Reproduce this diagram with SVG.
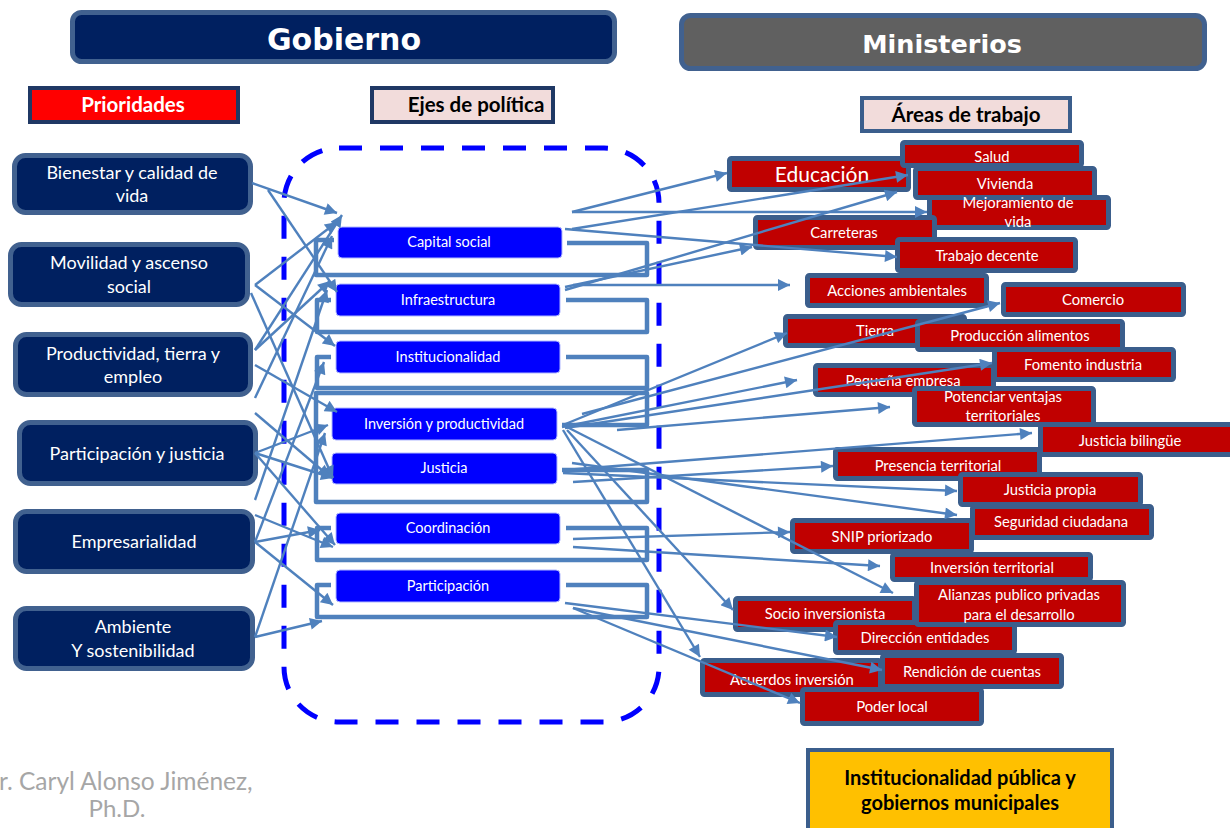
<svg xmlns="http://www.w3.org/2000/svg" width="1230" height="828" viewBox="0 0 1230 828">
<style>
  text { font-family: Lato, "Open Sans", "Liberation Sans", sans-serif; text-anchor: middle; }
  .hdr { fill: #002060; stroke: #41618f; stroke-width: 5; }
  .hdr2 { fill: #606060; stroke: #41618f; stroke-width: 5; }
  .htxt { font-family: "DejaVu Sans", "Liberation Sans", sans-serif; font-weight: bold; fill: #ffffff; }
  .lbl { stroke: #1f3864; stroke-width: 4; }
  .lbltxt { font-weight: bold; font-size: 20.5px; fill: #000000; }
  .pn { fill: #002060; stroke: #41618f; stroke-width: 5; }
  .pntxt { font-size: 18px; fill: #ffffff; }
  .eje { fill: #0000ff; stroke: #b0b8ff; stroke-width: 1; }
  .ejetxt { font-size: 14.5px; fill: #ffffff; }
  .area { fill: #c00000; stroke: #3b5e8c; stroke-width: 5; }
  .atxt { font-size: 14.8px; fill: #ffffff; }
  .brk { fill: none; stroke: #4f81bd; stroke-width: 4.5; stroke-linejoin: round; }
  .cn line { stroke: #4f81bd; stroke-width: 2.4; marker-end: url(#ah); }
</style>
<defs>
  <marker id="ah" viewBox="0 0 10 10" refX="10" refY="5" markerWidth="15" markerHeight="12" markerUnits="userSpaceOnUse" orient="auto">
    <path d="M0,0 L10,5 L0,10 z" fill="#4f81bd"/>
  </marker>
</defs>
<rect width="1230" height="828" fill="#ffffff"/>

<!-- headers -->
<g id="gobierno">
  <rect class="hdr" x="72.5" y="12.5" width="542" height="49" rx="9"/>
  <text class="htxt" x="344" y="50" font-size="30">Gobierno</text>
</g>
<g id="ministerios">
  <rect class="hdr2" x="681.5" y="15.5" width="523" height="53" rx="9"/>
  <text class="htxt" x="942" y="53" font-size="25.5">Ministerios</text>
</g>
<g id="prioridades">
  <rect class="lbl" x="30" y="88" width="208" height="34" fill="#ff0000"/>
  <text class="lbltxt" x="133" y="112" style="fill:#ffffff">Prioridades</text>
</g>
<g id="ejes">
  <rect class="lbl" x="372" y="88" width="181" height="34" fill="#f2dcdb"/>
  <text class="lbltxt" x="476" y="112">Ejes de política</text>
</g>
<g id="areas">
  <rect class="lbl" x="862" y="98" width="208" height="33" fill="#f2dcdb" style="stroke:#3b5e8c"/>
  <text class="lbltxt" x="966" y="122">Áreas de trabajo</text>
</g>

<!-- dashed container -->
<rect x="284" y="148" width="375" height="574" rx="55" fill="none" stroke="#0000ff" stroke-width="5" stroke-dasharray="23 18"/>

<!-- brackets -->
<g id="brackets">
  <path class="brk" d="M567,243 H647 V275 H316 V240 H334"/>
  <path class="brk" d="M566,300 H647 V332 H317 V300 H331"/>
  <path class="brk" d="M566,357 H647 V388 H317 V357 H331"/>
  <path class="brk" d="M562,425 H647 V393 H316 V502 H647 V470 H562"/>
  <path class="brk" d="M566,528 H647 V560 H317 V528 H331"/>
  <path class="brk" d="M566,585 H647 V617 H317 V585 H331"/>
</g>

<!-- left nodes -->
<g id="p-bienestar"><rect class="pn" x="14.5" y="155.5" width="236" height="57" rx="11"/><text class="pntxt" x="132" y="179">Bienestar y calidad de</text><text class="pntxt" x="132" y="202">vida</text></g>
<g id="p-movilidad"><rect class="pn" x="10.5" y="244.5" width="237" height="60" rx="11"/><text class="pntxt" x="129" y="269">Movilidad y ascenso</text><text class="pntxt" x="129" y="293">social</text></g>
<g id="p-productividad"><rect class="pn" x="15.5" y="334.5" width="235" height="60" rx="11"/><text class="pntxt" x="133" y="360">Productividad, tierra y</text><text class="pntxt" x="133" y="383">empleo</text></g>
<g id="p-participacion"><rect class="pn" x="19.5" y="422.5" width="236" height="61" rx="11"/><text class="pntxt" x="137" y="460">Participación y justicia</text></g>
<g id="p-empresarialidad"><rect class="pn" x="15.5" y="511.5" width="237" height="60" rx="11"/><text class="pntxt" x="134" y="548">Empresarialidad</text></g>
<g id="p-ambiente"><rect class="pn" x="15.5" y="608.5" width="237" height="60" rx="11"/><text class="pntxt" x="133" y="633">Ambiente</text><text class="pntxt" x="133" y="657">Y sostenibilidad</text></g>

<!-- ejes -->
<g id="e-capital"><rect class="eje" x="338" y="227" width="224" height="31" rx="4"/><text class="ejetxt" x="449" y="247">Capital social</text></g>
<g id="e-infra"><rect class="eje" x="336" y="284" width="224" height="32" rx="4"/><text class="ejetxt" x="448" y="305">Infraestructura</text></g>
<g id="e-instit"><rect class="eje" x="336" y="341" width="224" height="32" rx="4"/><text class="ejetxt" x="448" y="362">Institucionalidad</text></g>
<g id="e-inversion"><rect class="eje" x="332" y="408" width="225" height="32" rx="4"/><text class="ejetxt" x="444" y="429">Inversión y productividad</text></g>
<g id="e-justicia"><rect class="eje" x="332" y="453" width="225" height="31" rx="4"/><text class="ejetxt" x="444" y="473">Justicia</text></g>
<g id="e-coord"><rect class="eje" x="336" y="513" width="224" height="31" rx="4"/><text class="ejetxt" x="448" y="533">Coordinación</text></g>
<g id="e-partic"><rect class="eje" x="336" y="570" width="224" height="32" rx="4"/><text class="ejetxt" x="448" y="591">Participación</text></g>

<!-- areas de trabajo -->
<g id="a-educacion"><rect class="area" x="729.5" y="158.5" width="179" height="31" rx="2"/><text class="atxt" x="822" y="182" style="font-size:21px">Educación</text></g>
<g id="a-salud"><rect class="area" x="902.5" y="142.5" width="179" height="23" rx="2"/><text class="atxt" x="992" y="162">Salud</text></g>
<g id="a-vivienda"><rect class="area" x="915.5" y="168.5" width="179" height="29" rx="2"/><text class="atxt" x="1005" y="189">Vivienda</text></g>
<g id="a-mejoramiento"><rect class="area" x="929.5" y="197.5" width="179" height="30" rx="2"/><text class="atxt" x="1018" y="208">Mejoramiento de</text><text class="atxt" x="1018" y="227">vida</text></g>
<g id="a-carreteras"><rect class="area" x="755.5" y="217.5" width="179" height="30" rx="2"/><text class="atxt" x="844" y="238">Carreteras</text></g>
<g id="a-trabajo"><rect class="area" x="897.5" y="239.5" width="178" height="31" rx="2"/><text class="atxt" x="987" y="261">Trabajo decente</text></g>
<g id="a-acciones"><rect class="area" x="807.5" y="275.5" width="179" height="30" rx="2"/><text class="atxt" x="897" y="296">Acciones ambientales</text></g>
<g id="a-comercio"><rect class="area" x="1003.5" y="284.5" width="180" height="30" rx="2"/><text class="atxt" x="1093" y="305">Comercio</text></g>
<g id="a-tierra"><rect class="area" x="785.5" y="316.5" width="179" height="29" rx="2"/><text class="atxt" x="875" y="336">Tierra</text></g>
<g id="a-produccion"><rect class="area" x="917.5" y="321.5" width="205" height="28" rx="2"/><text class="atxt" x="1020" y="341">Producción alimentos</text></g>
<g id="a-pequena"><rect class="area" x="815.5" y="365.5" width="178" height="29" rx="2"/><text class="atxt" x="903" y="386">Pequeña empresa</text></g>
<g id="a-fomento"><rect class="area" x="994.5" y="349.5" width="179" height="30" rx="2"/><text class="atxt" x="1083" y="370">Fomento industria</text></g>
<g id="a-bilingue"><rect class="area" x="1040.5" y="424.5" width="192" height="30" rx="2"/><text class="atxt" x="1130" y="446">Justicia bilingüe</text></g>
<g id="a-potenciar"><rect class="area" x="914.5" y="388.5" width="179" height="36" rx="2"/><text class="atxt" x="1003" y="402">Potenciar ventajas</text><text class="atxt" x="1003" y="421">territoriales</text></g>
<g id="a-presencia"><rect class="area" x="835.5" y="449.5" width="204" height="29" rx="2"/><text class="atxt" x="938" y="471">Presencia territorial</text></g>
<g id="a-jpropia"><rect class="area" x="960.5" y="474.5" width="180" height="30" rx="2"/><text class="atxt" x="1050" y="495">Justicia propia</text></g>
<g id="a-seguridad"><rect class="area" x="972.5" y="506.5" width="179" height="31" rx="2"/><text class="atxt" x="1061" y="527">Seguridad ciudadana</text></g>
<g id="a-snip"><rect class="area" x="792.5" y="520.5" width="179" height="31" rx="2"/><text class="atxt" x="882" y="542">SNIP priorizado</text></g>
<g id="a-invterr"><rect class="area" x="892.5" y="554.5" width="198" height="25" rx="2"/><text class="atxt" x="992" y="573">Inversión territorial</text></g>
<g id="a-socio"><rect class="area" x="735.5" y="598.5" width="179" height="31" rx="2"/><text class="atxt" x="825" y="619">Socio inversionista</text></g>
<g id="a-direccion"><rect class="area" x="835.5" y="622.5" width="179" height="30" rx="2"/><text class="atxt" x="925" y="643">Dirección entidades</text></g>
<g id="a-alianzas"><rect class="area" x="916.5" y="582.5" width="207" height="42" rx="2"/><text class="atxt" x="1019" y="600">Alianzas publico privadas</text><text class="atxt" x="1019" y="620">para el desarrollo</text></g>
<g id="a-acuerdos"><rect class="area" x="702.5" y="660.5" width="178" height="34" rx="2"/><text class="atxt" x="792" y="685">Acuerdos inversión</text></g>
<g id="a-rendicion"><rect class="area" x="882.5" y="655.5" width="179" height="31" rx="2"/><text class="atxt" x="972" y="677">Rendición de cuentas</text></g>
<g id="a-poder"><rect class="area" x="802.5" y="689.5" width="179" height="34" rx="2"/><text class="atxt" x="892" y="712">Poder local</text></g>

<!-- institucionalidad -->
<g id="instit-publica">
  <rect x="808" y="750" width="304" height="84" fill="#ffc000" stroke="#3b5e8c" stroke-width="4"/>
  <text x="960" y="785" font-size="20" font-weight="bold" fill="#000000">Institucionalidad pública y</text>
  <text x="960" y="810" font-size="20" font-weight="bold" fill="#000000">gobiernos municipales</text>
</g>

<!-- author -->
<g id="autor">
  <text x="-1" y="790" font-size="24.5" fill="#a6a6a6" style="text-anchor:start">r. Caryl Alonso Jiménez,</text>
  <text x="117" y="817" font-size="24" fill="#a6a6a6">Ph.D.</text>
</g>

<!-- connectors -->
<g id="connectors" class="cn">
  <line x1="252" y1="183" x2="337" y2="213"/>
  <line x1="268" y1="190" x2="337" y2="292"/>
  <line x1="255" y1="285" x2="337" y2="222"/>
  <line x1="255" y1="285" x2="335" y2="346"/>
  <line x1="251" y1="293" x2="333" y2="478"/>
  <line x1="255" y1="350" x2="342" y2="215"/>
  <line x1="255" y1="350" x2="330" y2="281"/>
  <line x1="255" y1="365" x2="337" y2="412"/>
  <line x1="255" y1="398" x2="332" y2="236"/>
  <line x1="255" y1="413" x2="330" y2="477"/>
  <line x1="255" y1="453" x2="328" y2="425"/>
  <line x1="255" y1="453" x2="333" y2="478"/>
  <line x1="255" y1="453" x2="335" y2="545"/>
  <line x1="255" y1="500" x2="327" y2="290"/>
  <line x1="255" y1="542" x2="324" y2="362"/>
  <line x1="255" y1="542" x2="320" y2="530"/>
  <line x1="255" y1="542" x2="333" y2="605"/>
  <line x1="255" y1="515" x2="333" y2="547"/>
  <line x1="255" y1="637" x2="325" y2="433"/>
  <line x1="255" y1="637" x2="322" y2="621"/>

  <line x1="572" y1="212" x2="727" y2="173"/>
  <line x1="572" y1="212" x2="927" y2="212"/>
  <line x1="572" y1="229" x2="908" y2="175"/>
  <line x1="565" y1="229" x2="897" y2="257"/>
  <line x1="565" y1="287" x2="752" y2="247"/>
  <line x1="565" y1="290" x2="897" y2="192"/>
  <line x1="573" y1="285" x2="790" y2="285"/>
  <line x1="563" y1="425" x2="787" y2="333"/>
  <line x1="582" y1="414" x2="1000" y2="303"/>
  <line x1="562" y1="427" x2="797" y2="380"/>
  <line x1="565" y1="428" x2="992" y2="363"/>
  <line x1="617" y1="430" x2="890" y2="407"/>
  <line x1="567" y1="427" x2="893" y2="593"/>
  <line x1="567" y1="430" x2="733" y2="610"/>
  <line x1="563" y1="430" x2="700" y2="657"/>
  <line x1="565" y1="470" x2="1032" y2="433"/>
  <line x1="573" y1="482" x2="833" y2="466"/>
  <line x1="563" y1="473" x2="957" y2="491"/>
  <line x1="572" y1="463" x2="957" y2="515"/>
  <line x1="573" y1="539" x2="790" y2="532"/>
  <line x1="573" y1="547" x2="880" y2="566"/>
  <line x1="565" y1="603" x2="837" y2="637"/>
  <line x1="573" y1="608" x2="882" y2="670"/>
  <line x1="573" y1="608" x2="800" y2="703"/>
</g>
</svg>
